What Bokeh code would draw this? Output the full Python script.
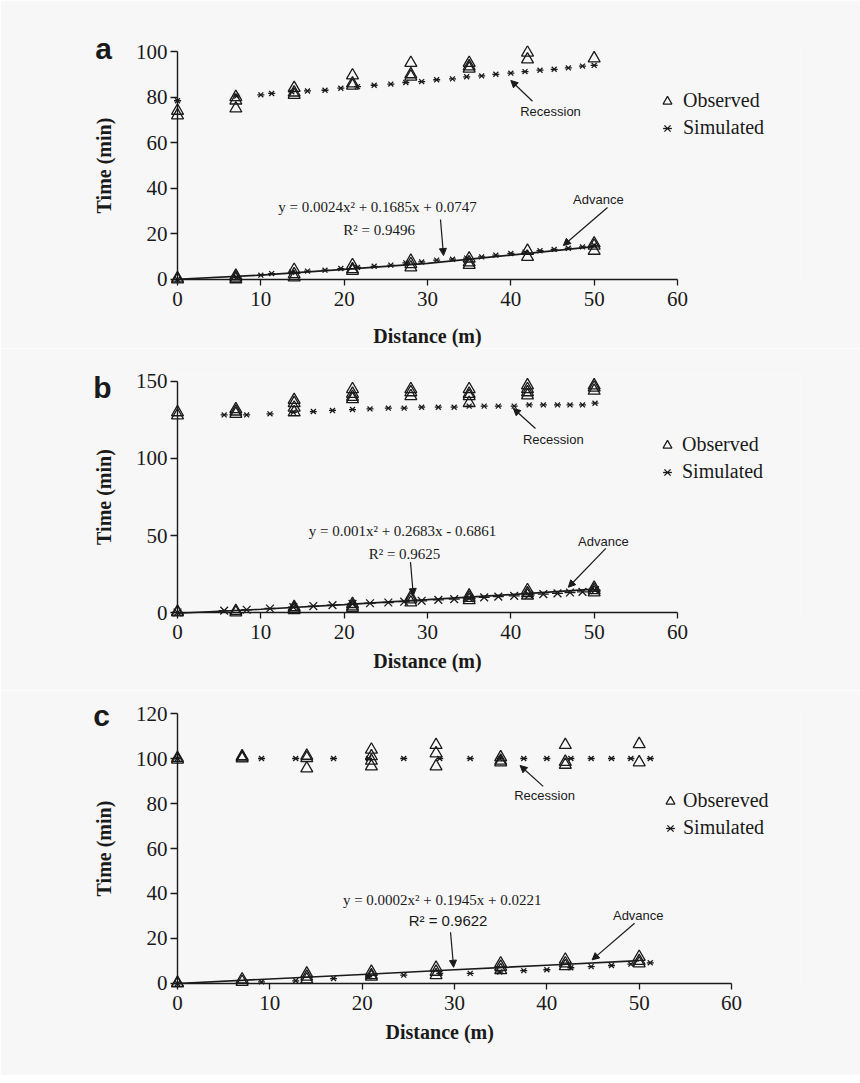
from bokeh.plotting import figure
from bokeh.models import Range1d, FixedTicker, Label, Arrow, NormalHead, Legend, LegendItem
from bokeh.layouts import column
from bokeh.embed import file_html
from bokeh.resources import INLINE

BG = "#f7f7f7"
INK = "#1a1a1a"

# ---------------- data: panel a ----------------
a_x_ticks = [0, 10, 20, 30, 40, 50, 60]
a_y_ticks = [0, 20, 40, 60, 80, 100]
a_obs_rec_x = [0, 0, 7, 7, 7, 14, 14, 14, 21, 21, 21, 28, 28, 28, 35, 35, 35, 42, 42, 50]
a_obs_rec_y = [74, 72, 80, 78.5, 75, 84, 82, 81, 89.5, 86, 85, 95, 90, 89, 95, 93.5, 92.5, 99.5, 96.5, 97]
a_obs_adv_x = [0, 0, 7, 7, 7, 14, 14, 14, 21, 21, 21, 28, 28, 28, 35, 35, 35, 42, 42, 50, 50, 50]
a_obs_adv_y = [0.5, 0, 1.6, 0.8, 0.1, 4.2, 2.3, 0.9, 6.3, 4.5, 3.8, 8.2, 6.7, 5.3, 9.2, 7.5, 6.4, 12.6, 9.9, 15.8, 14.8, 12.6]
a_sim_x = [0, 7.1, 10, 11.3, 13.7, 15.6, 17.7, 19.6, 21.6, 23.6, 25.6, 27.4, 29.3, 31.1, 33, 34.7, 36.5, 38.2, 40, 41.7, 43.5, 45.2, 46.9, 48.6, 50]
a_sim_rec_y = [78.4, 80.4, 81, 81.6, 82.3, 82.7, 83, 83.9, 84.6, 85.2, 85.7, 86.4, 86.8, 87.6, 88, 88.9, 89.3, 90, 90.5, 91.2, 91.8, 92.2, 92.8, 93.6, 93.9]
a_sim_adv_y = [0, 0.9, 1.9, 2.6, 3.2, 3.7, 4.1, 4.8, 5.3, 5.8, 6.3, 7.3, 7.7, 8.5, 8.9, 9.4, 9.9, 10.7, 11.4, 12, 12.6, 13.2, 13.7, 14.3, 14.9]
a_fit_x = [0, 10, 20, 30, 40, 50]
a_fit_y = [0.1, 1.9, 4.4, 7.1, 10.7, 14.4]
a_eq = "y = 0.0024x\u00b2 + 0.1685x + 0.0747"
a_r2 = "R\u00b2 = 0.9496"
a_legend = ["Observed", "Simulated"]

# ---------------- data: panel b ----------------
b_x_ticks = [0, 10, 20, 30, 40, 50, 60]
b_y_ticks = [0, 50, 100, 150]
b_obs_rec_x = [0, 0, 7, 7, 7, 14, 14, 14, 14, 21, 21, 21, 21, 28, 28, 28, 35, 35, 35, 35, 42, 42, 42, 42, 50, 50, 50]
b_obs_rec_y = [130, 128, 132, 130.5, 129, 138, 136, 133, 130, 145, 142, 140, 138.5, 145, 143, 140.5, 145, 142, 140.5, 136, 147.5, 145, 143, 141, 147.5, 146, 144]
b_obs_adv_x = [0, 0, 7, 7, 14, 14, 14, 21, 21, 21, 28, 28, 28, 35, 35, 35, 42, 42, 42, 50, 50, 50]
b_obs_adv_y = [0.5, 0, 1, 0, 3.5, 2.5, 1.5, 5.5, 4, 3, 10, 8.5, 6.5, 11, 9.5, 8, 14.5, 12.5, 11, 16, 14.5, 13]
b_sim_rec_x = [5.6, 8.3, 11.1, 13.9, 16.3, 18.6, 21, 23.1, 25.3, 27.2, 29.3, 31.3, 33.2, 35, 36.8, 38.5, 40.4, 42.2, 43.9, 45.6, 47.1, 48.6, 50.1]
b_sim_rec_y = [128.3, 128.3, 129, 130, 130.5, 131.2, 131.8, 132.2, 132.7, 132.7, 133.3, 133.3, 133.3, 134, 134, 134, 134, 134.8, 134.8, 134.8, 134.8, 134.8, 135.9]
b_sim_adv_x = [0, 5.6, 8.3, 11.1, 13.9, 16.3, 18.6, 21, 23.1, 25.3, 27.2, 29.3, 31.3, 33.2, 35, 36.8, 38.5, 40.4, 42.2, 43.9, 45.6, 47.1, 48.6, 50.1]
b_sim_adv_y = [0, 1.2, 1.8, 2.6, 3.5, 4.2, 4.8, 5.6, 6, 6.5, 7, 7.6, 8.2, 8.7, 9.3, 9.8, 10.3, 10.8, 11.4, 11.9, 12.4, 13, 13.4, 14.5]
b_fit_x = [0, 10, 20, 30, 40, 50]
b_fit_y = [-0.5, 2.1, 5.1, 8.3, 11.6, 15.2]
b_eq = "y = 0.001x\u00b2 + 0.2683x - 0.6861"
b_r2 = "R\u00b2 = 0.9625"
b_legend = ["Observed", "Simulated"]

# ---------------- data: panel c ----------------
c_x_ticks = [0, 10, 20, 30, 40, 50, 60]
c_y_ticks = [0, 20, 40, 60, 80, 100, 120]
c_obs_rec_x = [0, 0, 7, 7, 7, 14, 14, 14, 21, 21, 21, 21, 28, 28, 28, 35, 35, 35, 42, 42, 42, 50, 50]
c_obs_rec_y = [100.2, 99.5, 101, 100.5, 100, 101.2, 100.2, 95.6, 103.9, 101, 99, 96.5, 106, 102.3, 96.5, 100.5, 99, 98.3, 106, 98.5, 97.2, 106.4, 98.3]
c_obs_adv_x = [0, 0, 7, 7, 14, 14, 14, 21, 21, 21, 28, 28, 28, 35, 35, 35, 42, 42, 42, 50, 50, 50]
c_obs_adv_y = [0.3, 0, 1.8, 0.7, 4.4, 3, 1.8, 5.2, 3.7, 3, 7, 5.2, 3.7, 8.9, 7.4, 5.9, 10.6, 8.9, 7.7, 11.8, 10, 8.9]
c_sim_x = [0, 9.1, 12.8, 16.9, 20.7, 24.5, 28.4, 31.7, 34.9, 37.5, 40, 42.6, 44.8, 47, 49.1, 51.2]
c_sim_rec_y = [100, 100, 100, 100, 100, 100, 100, 100, 100, 100, 100, 100, 100, 100, 100, 100]
c_sim_adv_y = [0, 0.7, 1.2, 2.2, 3.0, 3.7, 4.5, 4.5, 5.1, 5.7, 6.1, 7.0, 7.5, 8.0, 8.6, 9.2]
c_fit_x = [0, 10, 20, 30, 40, 50]
c_fit_y = [0, 2, 4, 6.1, 8.1, 10.2]
c_eq = "y = 0.0002x\u00b2  + 0.1945x + 0.0221"
c_r2 = "R\u00b2 = 0.9622"
c_legend = ["Obsereved", "Simulated"]

SERIF = "Liberation Serif"
SANS = "Liberation Sans"


def make_panel(cfg):
    p = figure(width=860, height=cfg["height"],
               x_range=Range1d(*cfg["xr"]), y_range=Range1d(*cfg["yr"]),
               output_backend="svg", toolbar_location=None,
               min_border_left=170, min_border_right=60,
               min_border_top=cfg["top"], min_border_bottom=cfg["bottom"],
               background_fill_color=BG, border_fill_color=BG,
               outline_line_color=None)
    p.xgrid.visible = False
    p.ygrid.visible = False

    xt, yt = cfg["xticks"], cfg["yticks"]
    for ax, ticks, tin in ((p.xaxis[0], xt, 6), (p.yaxis[0], yt, 7)):
        ax.ticker = FixedTicker(ticks=ticks)
        ax.axis_line_color = None
        ax.major_tick_in = tin
        ax.major_tick_out = 0
        ax.major_tick_line_color = INK
        ax.major_tick_line_width = 1.3
        ax.minor_tick_line_color = None
        ax.major_label_text_font = SERIF
        ax.major_label_text_font_size = "21px"
        ax.major_label_text_color = INK
    p.xaxis.major_label_standoff = 6
    p.yaxis.major_label_standoff = 3
    p.yaxis.axis_label = "Time (min)"
    p.yaxis.axis_label_text_font = SERIF
    p.yaxis.axis_label_text_font_style = "bold"
    p.yaxis.axis_label_text_font_size = "20px"
    p.yaxis.axis_label_text_color = INK
    p.yaxis.axis_label_standoff = 18

    # axis lines through the data scales
    p.segment(x0=[xt[0], xt[0]], y0=[yt[0], yt[0]], x1=[xt[-1], xt[0]], y1=[yt[0], yt[-1]],
              line_color=INK, line_width=1.4)

    # fitted line
    p.line(cfg["fit_x"], cfg["fit_y"], line_color=INK, line_width=1.7)

    s_small = cfg["sim_size"]
    s_adv = cfg["sim_adv_size"]
    rx1 = p.scatter(cfg["sim_rec_x"], cfg["sim_rec_y"], marker="x", size=s_small, line_color=INK, line_width=1.3)
    rd1 = p.scatter(cfg["sim_rec_x"], cfg["sim_rec_y"], marker="dash", size=s_small, line_color=INK, line_width=1.3)
    p.scatter(cfg["sim_adv_x"], cfg["sim_adv_y"], marker="x", size=s_adv, line_color=INK, line_width=1.3)
    p.scatter(cfg["sim_adv_x"], cfg["sim_adv_y"], marker="dash", size=s_adv, line_color=INK, line_width=1.3)

    rt1 = p.scatter(cfg["obs_rec_x"], cfg["obs_rec_y"], marker="triangle", size=12,
                    line_color=INK, fill_color=None, line_width=1.3)
    p.scatter(cfg["obs_adv_x"], cfg["obs_adv_y"], marker="triangle", size=12,
              line_color=INK, fill_color=None, line_width=1.3)

    legend = Legend(items=[LegendItem(label=cfg["legend"][0], renderers=[rt1]),
                           LegendItem(label=cfg["legend"][1], renderers=[rx1, rd1])],
                    location=cfg["leg_loc"], orientation="vertical",
                    glyph_width=22, glyph_height=22, label_height=22, spacing=4,
                    label_standoff=cfg["leg_standoff"], padding=0, margin=0,
                    border_line_color=None, background_fill_alpha=0,
                    label_text_font=SERIF, label_text_font_size="20px", label_text_color=INK)
    p.add_layout(legend)

    def lab(x, y, text, font, size, style="normal", align="center", baseline="middle"):
        return Label(x=x, y=y, text=text, text_font=font, text_font_size=size,
                     text_font_style=style, text_color=INK, text_align=align,
                     text_baseline=baseline)

    # panel letter (left side panel) and x-axis title (below side panel), in data units
    p.add_layout(lab(*cfg["letter_xy"], cfg["letter"], SANS, "30px", "bold"), "left")
    p.add_layout(lab(*cfg["dist_xy"], "Distance (m)", SERIF, "20px", "bold"), "below")

    p.add_layout(lab(*cfg["eq_xy"], cfg["eq"], SERIF, "15px"))
    p.add_layout(lab(*cfg["r2_xy"], cfg["r2"], cfg["r2_font"], "15px"))
    p.add_layout(lab(*cfg["rec_xy"], "Recession", SANS, "13px"))
    p.add_layout(lab(*cfg["adv_xy"], "Advance", SANS, "13px"))

    for (x0, y0, x1, y1) in cfg["arrows"]:
        p.add_layout(Arrow(end=NormalHead(size=7, fill_color=INK, line_color=INK, line_width=1),
                           x_start=x0, y_start=y0, x_end=x1, y_end=y1,
                           line_color=INK, line_width=1.2))
    return p


cfg_a = dict(height=348, top=45, bottom=63, xr=(-0.84, 74.76), yr=(-2.632, 102.632),
             xticks=a_x_ticks, yticks=a_y_ticks,
             obs_rec_x=a_obs_rec_x, obs_rec_y=a_obs_rec_y, obs_adv_x=a_obs_adv_x, obs_adv_y=a_obs_adv_y,
             sim_rec_x=a_sim_x, sim_rec_y=a_sim_rec_y, sim_adv_x=a_sim_x, sim_adv_y=a_sim_adv_y,
             fit_x=a_fit_x, fit_y=a_fit_y, sim_size=7, sim_adv_size=7,
             legend=a_legend, leg_loc=(486, 146), leg_standoff=5,
             letter="a", letter_xy=(-8.88, 101.5), dist_xy=(30, -25),
             eq=a_eq, eq_xy=(24.0, 32.0), r2=a_r2, r2_xy=(24.2, 21.9), r2_font=SERIF,
             rec_xy=(44.76, 73.8), adv_xy=(50.5, 35.1),
             arrows=[(31.56, 26.3, 31.92, 10.5), (51.6, 31.6, 46.3, 14.9), (42.6, 78.2, 40.0, 87.3)])

cfg_b = dict(height=342, top=27, bottom=72, xr=(-0.84, 74.76), yr=(-3.896, 153.896),
             xticks=b_x_ticks, yticks=b_y_ticks,
             obs_rec_x=b_obs_rec_x, obs_rec_y=b_obs_rec_y, obs_adv_x=b_obs_adv_x, obs_adv_y=b_obs_adv_y,
             sim_rec_x=b_sim_rec_x, sim_rec_y=b_sim_rec_y, sim_adv_x=b_sim_adv_x, sim_adv_y=b_sim_adv_y,
             fit_x=b_fit_x, fit_y=b_fit_y, sim_size=7, sim_adv_size=11,
             legend=b_legend, leg_loc=(486, 135), leg_standoff=4,
             letter="b", letter_xy=(-9.0, 146.4), dist_xy=(30, -31.2),
             eq=b_eq, eq_xy=(27.0, 52.8), r2=b_r2, r2_xy=(27.24, 38.3), r2_font=SERIF,
             rec_xy=(45.1, 112.3), adv_xy=(51.1, 46.3),
             arrows=[(27.96, 32.7, 28.3, 11.0), (51.4, 41.6, 46.9, 16.4), (42.96, 119.5, 40.3, 132.5)])

cfg_c = dict(height=385, top=17, bottom=86, xr=(-0.758, 67.47), yr=(-2.667, 122.667),
             xticks=c_x_ticks, yticks=c_y_ticks,
             obs_rec_x=c_obs_rec_x, obs_rec_y=c_obs_rec_y, obs_adv_x=c_obs_adv_x, obs_adv_y=c_obs_adv_y,
             sim_rec_x=c_sim_x, sim_rec_y=c_sim_rec_y, sim_adv_x=c_sim_x, sim_adv_y=c_sim_adv_y,
             fit_x=c_fit_x, fit_y=c_fit_y, sim_size=7, sim_adv_size=7,
             legend=c_legend, leg_loc=(489, 150), leg_standoff=2,
             letter="c", letter_xy=(-8.23, 119.3), dist_xy=(28.4, -21.6),
             eq=c_eq, eq_xy=(28.87, 37.3), r2=c_r2, r2_xy=(29.3, 28.0), r2_font=SANS,
             rec_xy=(39.75, 83.6), adv_xy=(49.9, 30.2),
             arrows=[(29.57, 22.8, 29.9, 7.2), (49.5, 26.8, 44.9, 10.5), (39.6, 87.6, 37.1, 96.9)])

pa = make_panel(cfg_a)
pb = make_panel(cfg_b)
pc = make_panel(cfg_c)

layout = column(pa, pb, pc, spacing=0)
html = file_html(layout, INLINE)
html = html.replace("<body>", '<body style="background-color:#f7f7f7;">', 1)
open("out.html", "w").write(html)
